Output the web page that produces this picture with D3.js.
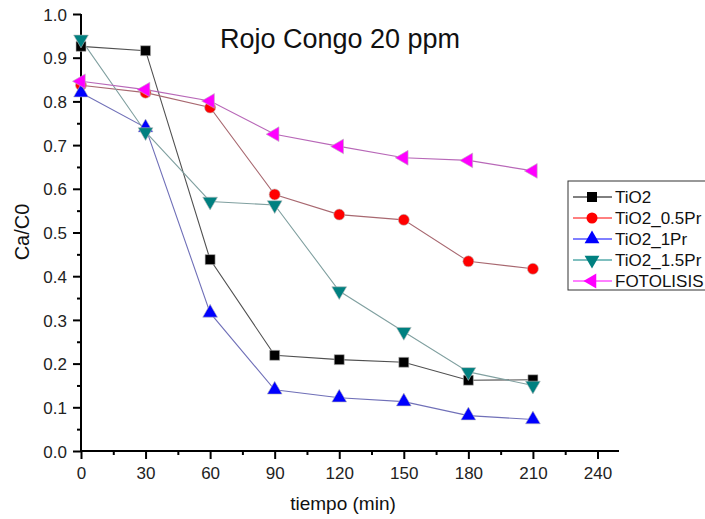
<!DOCTYPE html>
<html>
<head>
<meta charset="utf-8">
<script src="https://cdn.jsdelivr.net/npm/d3@7"></script>
<style>
  html, body { margin: 0; padding: 0; background: #fff; overflow: hidden; }
  svg text { font-family: "Liberation Sans", Arial, sans-serif; }
</style>
</head>
<body>
<svg id="chart" width="705" height="519"></svg>
<script>
// Time points (min)
const tiempo = [0, 30, 60, 90, 120, 150, 180, 210];

// Ca/C0 per sample
const tio2      = [0.926, 0.916, 0.438, 0.219, 0.209, 0.203, 0.162, 0.163];
const tio2_05Pr = [0.837, 0.820, 0.786, 0.587, 0.541, 0.529, 0.434, 0.417];
const tio2_1Pr  = [0.820, 0.740, 0.316, 0.140, 0.122, 0.113, 0.081, 0.072];
const tio2_15Pr = [0.942, 0.730, 0.571, 0.563, 0.366, 0.273, 0.181, 0.150];
const fotolisis = [0.846, 0.827, 0.801, 0.725, 0.697, 0.671, 0.665, 0.641];

const seriesNames = ["TiO2", "TiO2_0.5Pr", "TiO2_1Pr", "TiO2_1.5Pr", "FOTOLISIS"];
const xTicks = [0, 30, 60, 90, 120, 150, 180, 210, 240];
const yTicks = [0.0, 0.1, 0.2, 0.3, 0.4, 0.5, 0.6, 0.7, 0.8, 0.9, 1.0];

const series = [
  { name: seriesNames[0], values: tio2,      fill: "#000000", line: "#505050", symbol: d3.symbolSquare,   size: 100, rot: 0 },
  { name: seriesNames[1], values: tio2_05Pr, fill: "#ff0000", line: "#a86870", symbol: d3.symbolCircle,   size: 95,  rot: 0 },
  { name: seriesNames[2], values: tio2_1Pr,  fill: "#0000ff", line: "#7070b8", symbol: d3.symbolTriangle, size: 95,  rot: 0 },
  { name: seriesNames[3], values: tio2_15Pr, fill: "#008080", line: "#80a0a0", symbol: d3.symbolTriangle, size: 95,  rot: 180 },
  { name: seriesNames[4], values: fotolisis, fill: "#ff00ff", line: "#b868b8", symbol: d3.symbolTriangle, size: 95,  rot: -90 }
];

const svg = d3.select("#chart");
const x = d3.scaleLinear().domain([0, 250]).range([81, 619]);
const y = d3.scaleLinear().domain([0, 1.0]).range([451, 14]);

// Axes with major + minor ticks
const gx = svg.append("g").attr("transform", "translate(0,451)");
gx.call(d3.axisBottom(x).tickValues(d3.range(15, 250, 30)).tickSize(4).tickFormat(""));
gx.call(g => g.append("g").call(d3.axisBottom(x).tickValues(xTicks).tickSize(8).tickFormat(d3.format("d"))));
const gy = svg.append("g").attr("transform", "translate(81,0)");
gy.call(d3.axisLeft(y).tickValues(d3.range(0.05, 1.0, 0.1)).tickSize(4).tickFormat(""));
gy.call(g => g.append("g").call(d3.axisLeft(y).tickValues(yTicks).tickSize(8).tickFormat(d3.format(".1f"))));

svg.selectAll(".domain").attr("stroke", "#000").attr("stroke-width", 2);
svg.selectAll(".tick line").attr("stroke", "#000").attr("stroke-width", 2);
svg.selectAll(".tick text").attr("font-size", 17).attr("fill", "#222")
  .attr("font-family", "Liberation Sans, Arial, sans-serif");
gx.selectAll(".tick text").attr("y", 28).attr("dy", null);
gy.selectAll(".tick text").attr("x", -14).attr("dy", "0.36em");
gx.selectAll(".domain").attr("d", `M${x(0)},0H${x(250)}`);
gy.selectAll(".domain").attr("d", `M0,${y(0)}V${y(1.0)}`);

// Lines and markers
const line = d3.line().x((d, i) => x(tiempo[i])).y(d => y(d));
series.forEach(s => {
  svg.append("path").datum(s.values)
    .attr("fill", "none").attr("stroke", s.line).attr("stroke-width", 1.1)
    .attr("d", line);
});
series.forEach(s => {
  svg.append("g").selectAll("path").data(s.values).join("path")
    .attr("d", d3.symbol(s.symbol, s.size))
    .attr("transform", (d, i) => `translate(${x(tiempo[i])},${y(d)}) rotate(${s.rot})`)
    .attr("fill", s.fill)
    .attr("stroke", "#bbb").attr("stroke-width", 0.6);
});

// Title and axis labels
svg.append("text").attr("x", 340).attr("y", 48).attr("text-anchor", "middle")
  .attr("font-size", 27).attr("fill", "#111").text("Rojo Congo 20 ppm");
svg.append("text").attr("transform", "translate(29,232) rotate(-90)").attr("text-anchor", "middle")
  .attr("font-size", 20).attr("fill", "#111").text("Ca/C0");
svg.append("text").attr("x", 343).attr("y", 510).attr("text-anchor", "middle")
  .attr("font-size", 19).attr("fill", "#111").text("tiempo (min)");

// Legend
const lg = svg.append("g");
lg.append("rect").attr("x", 568).attr("y", 181).attr("width", 150).attr("height", 109)
  .attr("fill", "#fff").attr("stroke", "#333").attr("stroke-width", 1);
const legendColors = ["#000000", "#ff0000", "#0000ff", "#008080", "#ff00ff"];
series.forEach((s, i) => {
  const cy = 197 + i * 21;
  lg.append("line").attr("x1", 573).attr("x2", 612).attr("y1", cy).attr("y2", cy)
    .attr("stroke", legendColors[i]).attr("stroke-width", 1);
  lg.append("path").attr("d", d3.symbol(s.symbol, s.size))
    .attr("transform", `translate(592,${cy}) rotate(${s.rot})`).attr("fill", s.fill);
  lg.append("text").attr("x", 615).attr("y", cy + 6).attr("font-size", 17).attr("fill", "#111").text(s.name);
});
</script>
</body>
</html>
